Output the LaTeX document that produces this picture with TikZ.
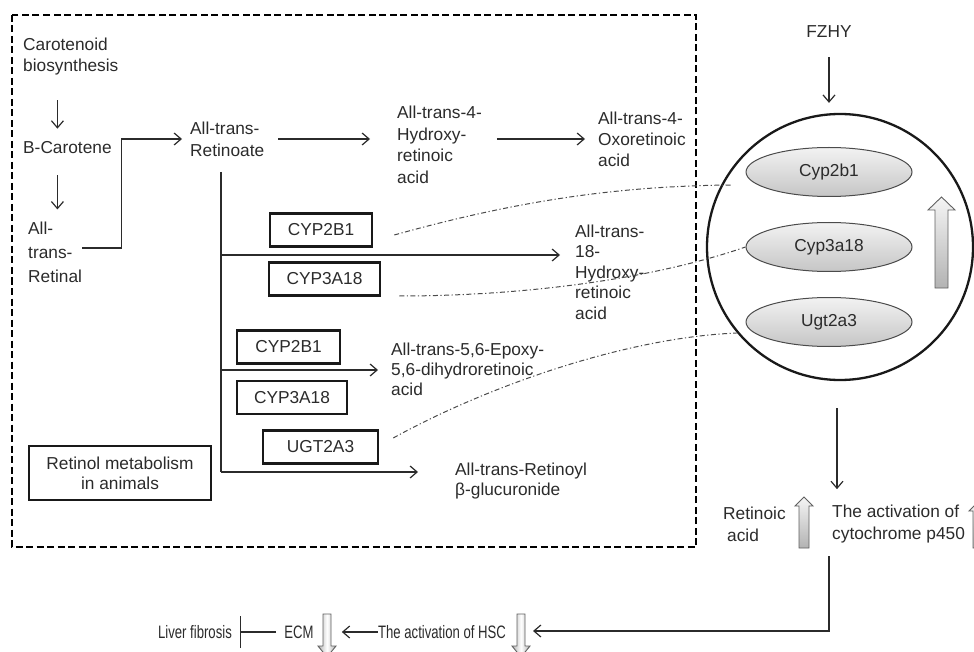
\documentclass[tikz,border=0pt]{standalone}
\usepackage{fontspec}
\setmainfont{Liberation Sans}
\usetikzlibrary{arrows.meta,shapes.geometric}
\definecolor{ink}{HTML}{2B2B2B}
\begin{document}
\begin{tikzpicture}[x=1pt,y=-1pt,
  every node/.style={inner sep=0pt, text=ink, font=\fontsize{17.3}{21}\selectfont},
  txt/.style={anchor=west, align=left},
  arr/.style={draw=ink, line width=1.2pt, -{Straight Barb[length=7pt,width=12pt]}},
  ln/.style={draw=ink, line width=1.2pt},
  enz/.style={draw=black!90, line width=2.5pt, minimum height=33pt},
  dd/.style={draw=ink!85, line width=1pt, dash pattern=on 5pt off 2.5pt on 1.2pt off 2.5pt},
  ell/.style={ellipse, draw=ink!85, line width=1pt, minimum width=166pt, minimum height=49pt, top color=gray!10, bottom color=gray!45},
  blkup/.style={draw=ink!75, line width=0.9pt, top color=gray!8, bottom color=gray!60},
  blkdn/.style={draw=ink!75, line width=0.9pt, left color=gray!60, right color=gray!60, middle color=white},
  low/.style={font=\fontsize{18}{21}\selectfont}
]
\useasboundingbox (0,0) rectangle (974,652);

% dashed frame
\draw[line width=2.4pt, dash pattern=on 7pt off 3.5pt] (12,15) rectangle (696,547);

% left column texts
\node[txt, font=\fontsize{17.3}{21}\selectfont] (carot) at (23,56.5) {Carotenoid\\biosynthesis};
\node[txt] (bcar) at (23,148) {B-Carotene};
\node[txt, font=\fontsize{17.3}{24}\selectfont] (retinal) at (28,252) {All-\\trans-\\Retinal};
\node[txt, font=\fontsize{17.3}{22}\selectfont] (retinoate) at (190,139) {All-trans-\\Retinoate};
\node[txt, font=\fontsize{17.3}{21.6}\selectfont] (hyd4) at (397,145) {All-trans-4-\\Hydroxy-\\retinoic\\acid};
\node[txt, font=\fontsize{17.3}{21}\selectfont] (oxo) at (598,139) {All-trans-4-\\Oxoretinoic\\acid};
\node[txt, font=\fontsize{17.3}{20.5}\selectfont] (hyd18) at (575,272) {All-trans-\\18-\\Hydroxy-\\retinoic\\acid};
\node[txt, font=\fontsize{17.3}{20}\selectfont] (epoxy) at (391,369) {All-trans-5,6-Epoxy-\\5,6-dihydroretinoic\\acid};
\node[txt, font=\fontsize{17.3}{20}\selectfont] (retinoyl) at (455,481) {All-trans-Retinoyl\\β-glucuronide};

% enzyme boxes
\node[enz, minimum width=102pt] (e1) at (321,230) {CYP2B1};
\node[enz, minimum width=111pt] (e2) at (324.5,279) {CYP3A18};
\node[enz, minimum width=103pt] (e3) at (288.5,347) {CYP2B1};
\node[enz, minimum width=110pt] (e4) at (292,397.5) {CYP3A18};
\node[enz, minimum width=115pt] (e5) at (320.5,447) {UGT2A3};
\node[draw=black!90, line width=2.5pt, minimum width=182pt, minimum height=54pt, align=center, font=\fontsize{17.3}{20}\selectfont] (retinol) at (120,473) {Retinol metabolism\\in animals};

% arrows in left part
\draw[arr, shorten <=25pt, shorten >=13pt] ([xshift=-10pt]bcar.north |- carot.south) -- ([xshift=-10pt]bcar.north);
\draw[arr, shorten <=21pt, shorten >=12pt] ([xshift=-10pt]bcar.south) -- ([xshift=-10pt]bcar.south |- retinal.north);
\draw[arr, shorten >=8pt] ([yshift=4pt]retinal.east) -- ++(39,0) |- (retinoate.west);
\draw[arr] ([xshift=14pt]retinoate.east) -- ([xshift=-27pt]hyd4.west |- retinoate.east);
\draw[arr] ([xshift=15pt]hyd4.east |- oxo.west) -- ([xshift=-13pt]oxo.west);

\coordinate (br0) at (221,172);
\coordinate (b1) at (221,255);
\coordinate (b2) at (221,370);
\coordinate (b3) at (221,472);
\draw[ln] (br0) -- (b3);
\draw[arr] (b1) -- ([xshift=-15pt]hyd18.west |- b1);
\draw[arr] (b2) -- ([xshift=-13pt]epoxy.west |- b2);
\draw[arr] (b3) -- ([xshift=-37pt]retinoyl.west |- b3);

% circle with enzymes
\node[circle, draw=black!90, line width=2.3pt, minimum size=266pt] (circ) at (840,247) {};
\node[ell] (cyp2b1) at (829,172) {Cyp2b1};
\node[ell] (cyp3a18) at (829,247) {Cyp3a18};
\node[ell] (ugt) at (829,322) {Ugt2a3};
\draw[blkup] (935,288) -- (935,210) -- (928,210) -- (941.5,197) -- (955,210) -- (948,210) -- (948,288) -- cycle;

% dash-dot links
\draw[dd] ([xshift=21pt,yshift=-5pt]e1.east) .. controls (520,200) and (620,186) .. ([xshift=-14pt,yshift=-13pt]cyp2b1.west);
\draw[dd] ([xshift=18pt,yshift=-17pt]e2.east) .. controls (520,296) and (650,280) .. (cyp3a18.west);
\draw[dd] ([xshift=14pt,yshift=9pt]e5.east) .. controls (480,390) and (620,338) .. ([xshift=-9pt,yshift=-11pt]ugt.west);

% FZHY
\node (fzhy) at (829,32) {FZHY};
\draw[arr] ([yshift=-19pt]fzhy.south) -- ([yshift=10pt]fzhy.south |- circ.north);

% below circle
\draw[arr] ([xshift=-3pt,yshift=-27pt]circ.south) -- ([xshift=-3pt,yshift=-108pt]circ.south);
\node[txt, font=\fontsize{17.3}{22}\selectfont] (retacid) at (723,524) {Retinoic\\\hspace*{4pt}acid};
\draw[blkup] (799,548) -- (799,506) -- (795,506) -- (804,497) -- (813,506) -- (809,506) -- (809,548) -- cycle;
\node[txt, font=\fontsize{17.3}{22}\selectfont] (cyto) at (832,524) {The activation of\\cytochrome p450};
\draw[blkup] (973,548) -- (973,511) -- (969,511) -- (978,502) -- (987,511) -- (983,511) -- (983,548) -- cycle;

% bottom row
\coordinate (c1) at (829,556);
\coordinate (hscR) at (533,631);
\draw[arr] (c1) |- (hscR);
\node[low] (hsc) at (442,632) {\scalebox{0.73}[1]{The activation of HSC}};
\draw[blkdn] (517,614) -- (525,614) -- (525,646) -- (530,646) -- (521,657) -- (512,646) -- (517,646) -- cycle;
\node[low] (ecm) at (299,632) {\scalebox{0.73}[1]{ECM}};
\draw[blkdn] (323,614) -- (331,614) -- (331,646) -- (336,646) -- (327,657) -- (318,646) -- (323,646) -- cycle;
\draw[arr] (hsc.west) -- ([xshift=28pt]ecm.east);
\node[low] (liver) at (195,632) {\scalebox{0.73}[1]{Liver fibrosis}};
\draw[ln, -{Bar[width=32pt]}] ([xshift=-8pt]ecm.west) -- ([xshift=8pt]liver.east);
\end{tikzpicture}
\end{document}
